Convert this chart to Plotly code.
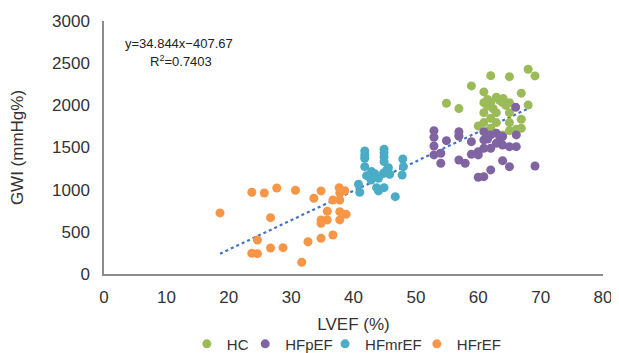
import plotly.graph_objects as go

# HC (healthy controls)
hc_x = [62.0, 65.0, 68.0, 69.1, 58.9, 60.9, 66.9, 54.9, 56.9, 60.9, 62.0, 62.9, 63.9, 65.0,
        60.9, 62.9, 65.0, 62.0, 68.0, 66.9, 60.9, 62.9, 65.0, 62.0, 66.9, 56.9, 60.0, 63.9,
        65.0, 66.1, 61.5, 63.4, 64.4, 62.4, 61.5, 64.0]
hc_y = [2352, 2340, 2428, 2349, 2230, 2159, 2144, 2025, 1961, 2032, 2032, 2096, 2032, 2032,
        1913, 1913, 1913, 1847, 2005, 1835, 1795, 1795, 1795, 1728, 1728, 1637, 1756, 1649,
        1700, 1716, 2070, 2060, 2000, 1960, 1990, 2080]

# HFpEF
hfp_x = [52.9, 52.9, 52.9, 52.9, 54.0, 54.0, 54.9, 56.9, 56.9, 58.9, 56.9, 57.9, 58.9, 60.0,
         60.9, 60.9, 60.9, 62.0, 62.9, 63.9, 62.0, 62.9, 63.9, 65.0, 66.1, 66.1, 63.9, 65.0,
         62.0, 60.0, 60.9, 69.1, 66.0, 60.0, 61.5, 63.4]
hfp_y = [1700, 1622, 1518, 1412, 1432, 1313, 1581, 1688, 1637, 1569, 1352, 1313, 1420, 1451,
         1688, 1590, 1491, 1649, 1669, 1629, 1491, 1550, 1530, 1510, 1510, 1649, 1344, 1273,
         1234, 1147, 1154, 1281, 1977, 1412, 1600, 1580]

# HFmrEF
hfmr_x = [41.8, 41.8, 41.8, 44.9, 44.9, 44.9, 44.9, 41.8, 42.9, 42.1, 45.6, 44.8, 45.8, 44.0,
          40.8, 43.7, 44.9, 41.0, 44.0, 46.7, 47.9, 48.0, 47.8, 42.8, 43.4, 45.3]
hfmr_y = [1459, 1412, 1372, 1479, 1435, 1388, 1332, 1273, 1214, 1166, 1261, 1195, 1183, 1135,
          1064, 1024, 1024, 969, 985, 917, 1364, 1273, 1174, 1115, 1190, 1230]

# HFrEF
hfr_x = [23.7, 25.7, 27.7, 30.7, 18.6, 26.7, 24.6, 23.7, 24.6, 26.7, 28.7, 31.7, 33.65, 34.8,
         36.7, 37.7, 38.6, 37.8, 37.8, 35.8, 37.8, 38.8, 34.8, 35.8, 34.8, 37.8, 32.7, 34.8, 36.7]
hfr_y = [969, 961, 1020, 993, 724, 668, 403, 246, 241, 308, 312, 139, 898, 985,
         878, 1024, 988, 878, 960, 744, 739, 708, 641, 641, 601, 641, 383, 423, 463]

# Trend line y = 34.844x - 407.67
slope = 34.844
intercept = -407.67
trend_x = [18.6, 68.5]
trend_y = [slope * v + intercept for v in trend_x]

x_ticks = [0, 10, 20, 30, 40, 50, 60, 70, 80]
y_ticks = [0, 500, 1000, 1500, 2000, 2500, 3000]

FONT = "Liberation Sans, Arial, sans-serif"
TXT = "#333333"

fig = go.Figure()
fig.add_trace(go.Scatter(x=trend_x, y=trend_y, mode="lines", showlegend=False,
                         line=dict(color="#4472C4", width=2.2, dash="dot"), hoverinfo="skip"))
series = [("HC", hc_x, hc_y, "#9BBB59", "legend", 0.166),
          ("HFpEF", hfp_x, hfp_y, "#8064A2", "legend2", 0.283),
          ("HFmrEF", hfmr_x, hfmr_y, "#4BACC6", "legend3", 0.443),
          ("HFrEF", hfr_x, hfr_y, "#F79646", "legend4", 0.627)]
legends = {}
for name, xs, ys, c, lg, lx in series:
    fig.add_trace(go.Scatter(x=xs, y=ys, mode="markers", name=name, legend=lg,
                             marker=dict(color=c, size=9, line=dict(width=0))))
    legends[lg] = dict(orientation="h", x=lx, xanchor="left", y=-0.277, yanchor="middle",
                       font=dict(size=15, color=TXT, family=FONT), itemwidth=30,
                       bgcolor="rgba(0,0,0,0)")

fig.add_annotation(x=0.038, y=0.913, xref="paper", yref="paper", xanchor="left", yanchor="middle",
                   text="y=34.844x\u2212407.67", showarrow=False,
                   font=dict(family=FONT, size=13, color="#222222"))
fig.add_annotation(x=0.088, y=0.842, xref="paper", yref="paper", xanchor="left", yanchor="middle",
                   text="R<sup>2</sup>=0.7403", showarrow=False,
                   font=dict(family=FONT, size=13, color="#222222"))

# The page body has an 8px default margin; size the figure so the plot lands where the reference has it.
fig.update_layout(
    width=611, height=345,
    margin=dict(l=96, r=16, t=13, b=79, autoexpand=False),
    paper_bgcolor="white", plot_bgcolor="white",
    font=dict(family=FONT, size=17, color=TXT),
    xaxis=dict(range=[0, 80], tickvals=x_ticks, showgrid=False, zeroline=False,
               showline=True, linecolor="#8c8c8c", linewidth=1.5, ticks="",
               tickfont=dict(size=17, color=TXT), ticklabelstandoff=7, automargin=False,
               title=dict(text="LVEF (%)", font=dict(size=17, color=TXT), standoff=12)),
    yaxis=dict(range=[0, 3000], tickvals=y_ticks, showgrid=False, zeroline=False,
               showline=True, linecolor="#8c8c8c", linewidth=1.5, ticks="",
               tickfont=dict(size=17, color=TXT), ticklabelstandoff=9, automargin=False,
               title=dict(text="GWI (mmHg%)", font=dict(size=17, color=TXT), standoff=24)),
    **legends,
)

fig.write_html("out.html")
